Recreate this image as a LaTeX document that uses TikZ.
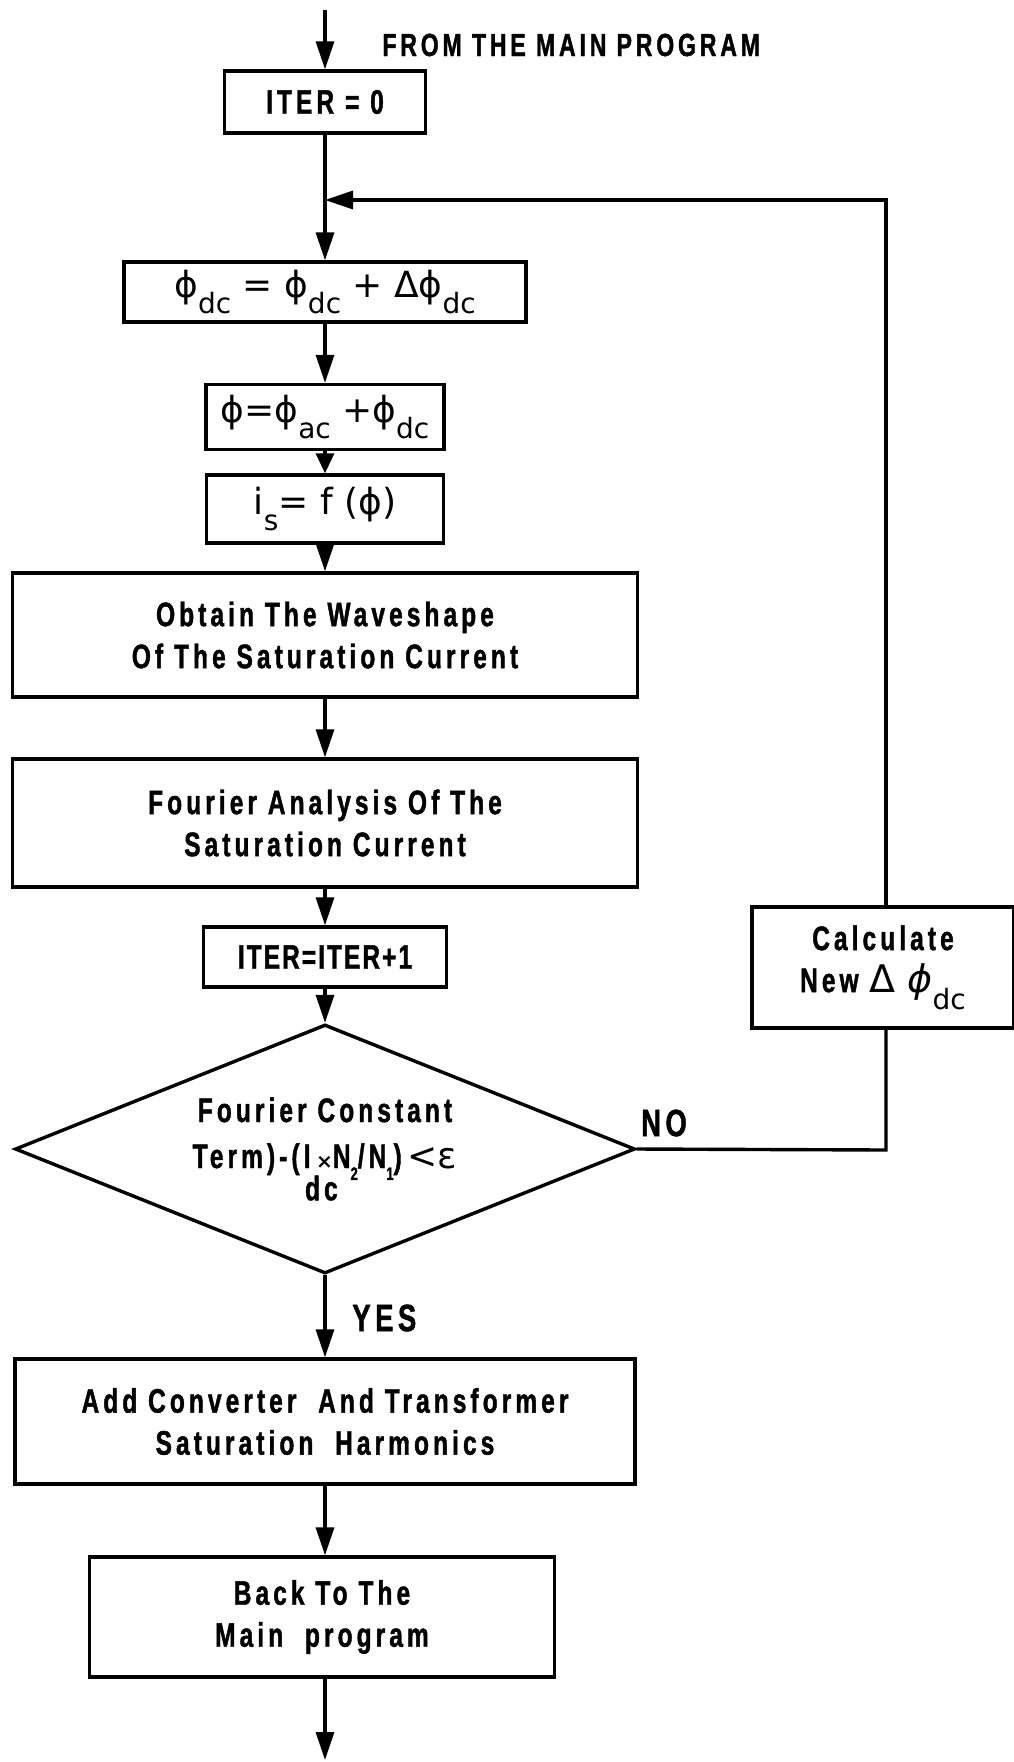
\documentclass[tikz,border=0pt]{standalone}
\usepackage{fontspec}
\usetikzlibrary{arrows.meta,shapes.geometric}
\newfontfamily\fc[FakeStretch=0.72,LetterSpace=12,BoldFeatures={FakeBold=1.2}]{Liberation Sans}
\newfontfamily\fn[FakeStretch=0.72,LetterSpace=6,BoldFeatures={FakeBold=1.2}]{Liberation Sans}
\newfontfamily\mf{DejaVu Sans}
\newcommand{\lo}[1]{\raisebox{-0.45em}{\fontsize{14pt}{14pt}\selectfont #1}}
\newcommand{\sm}[1]{\raisebox{-0.35em}{\fontsize{9pt}{9pt}\selectfont #1}}
\tikzset{
  ln/.style={line width=1.7pt},
  arr/.style={line width=1.7pt,-{Triangle[length=14pt,width=9pt]}},
  sarr/.style={line width=1.7pt,-{Triangle[length=10pt,width=9pt]}},
  txtfont/.style={font=\fc\bfseries\fontsize{17pt}{21pt}\selectfont},
  box/.style={draw,line width=1.7pt,rectangle,inner sep=0pt,align=center,txtfont},
  mbox/.style={draw,line width=1.7pt,rectangle,inner sep=0pt,align=center,font=\mf\fontsize{18pt}{20pt}\selectfont},
  decision/.style={draw,line width=1.7pt,diamond,inner sep=0pt,align=center,txtfont,shape aspect=2.49},
  lbl/.style={txtfont,inner sep=0pt},
}
\begin{document}
\begin{tikzpicture}[x=0.5pt,y=-0.5pt]
\useasboundingbox[fill=white] (0,0) rectangle (1013,1762);

\node[box,minimum width=100.5pt,minimum height=31pt] (iter0) at (325,102) {ITER = 0};
\node[mbox,minimum width=201pt,minimum height=30pt] (phidc) at (325,292)
  {ϕ\lo{dc} = ϕ\lo{dc} + Δϕ\lo{dc}};
\node[mbox,minimum width=119pt,minimum height=32.5pt] (phi) at (325,417)
  {ϕ=ϕ\lo{ac} +ϕ\lo{dc}};
\node[mbox,minimum width=118.5pt,minimum height=34pt] (is) at (325,509)
  {i\lo{s}= f (ϕ)};
\node[box,minimum width=312.5pt,minimum height=62pt] (obtain) at (325,635)
  {Obtain The Waveshape\\Of The Saturation Current};
\node[box,minimum width=312.5pt,minimum height=64pt] (fourier) at (325,823)
  {Fourier Analysis Of The\\Saturation Current};
\node[box,minimum width=121.5pt,minimum height=30pt,font=\fn\bfseries\fontsize{17pt}{21pt}\selectfont] (iter1) at (325,957) {ITER=ITER+1};
\node[decision,minimum width=310pt,minimum height=124.5pt] (dia) at (325,1149)
  {Fourier Constant\\[2pt]Term)-(I\makebox[0pt]{\raisebox{-0.95em}{\ \ dc}}\,{\mf\fontsize{10pt}{10pt}\selectfont ×}N\sm{2}/N\sm{1}){\mf\mdseries\fontsize{18pt}{18pt}\selectfont\,<ε}};
\node[box,minimum width=310pt,minimum height=62.5pt] (add) at (325,1421.5)
  {Add Converter\ \ And Transformer\\Saturation\ \ Harmonics};
\node[box,minimum width=232.5pt,minimum height=60pt] (back) at (322,1617)
  {Back To The\\Main\ \ program};
\node[box,minimum width=131pt,minimum height=60.5pt] (calc) at (883,967.5)
  {Calculate\\New {\mf\mdseries\fontsize{19pt}{19pt}\selectfont Δ \itshape ϕ\upshape\lo{dc}}};

\node[lbl,anchor=west,font=\fc\bfseries\fontsize{16pt}{21pt}\selectfont] (from) at (382,45) {FROM THE MAIN PROGRAM};
\node[lbl,font=\fc\bfseries\fontsize{19pt}{21pt}\selectfont] (no) at (664,1123) {NO};
\node[lbl,anchor=west,font=\fc\bfseries\fontsize{19pt}{21pt}\selectfont] (yes) at (352,1318) {YES};

\coordinate (in) at (325,10);
\coordinate (out) at (325,1760);
\coordinate (j) at (325,200);
\coordinate (c1) at (886,200);
\coordinate (c2) at (886,1150);

\draw[arr] (in) -- (iter0);
\draw[arr] (iter0) -- (phidc);
\draw[arr] (phidc) -- (phi);
\draw[sarr] (phi) -- (is);
\draw[arr] (is) -- (obtain);
\draw[arr] (obtain) -- (fourier);
\draw[arr] (fourier) -- (iter1);
\draw[arr] (iter1) -- (dia);
\draw[arr] (dia.south) -- (add);
\draw[arr] (add) -- (add |- back.north);
\draw[arr] (back.south -| add) -- (out);
\draw[ln] (dia.east) -- (c2) -- (c2 |- calc.south);
\draw[arr] (c1 |- calc.north) -- (c1) -- (j);
\end{tikzpicture}
\end{document}
